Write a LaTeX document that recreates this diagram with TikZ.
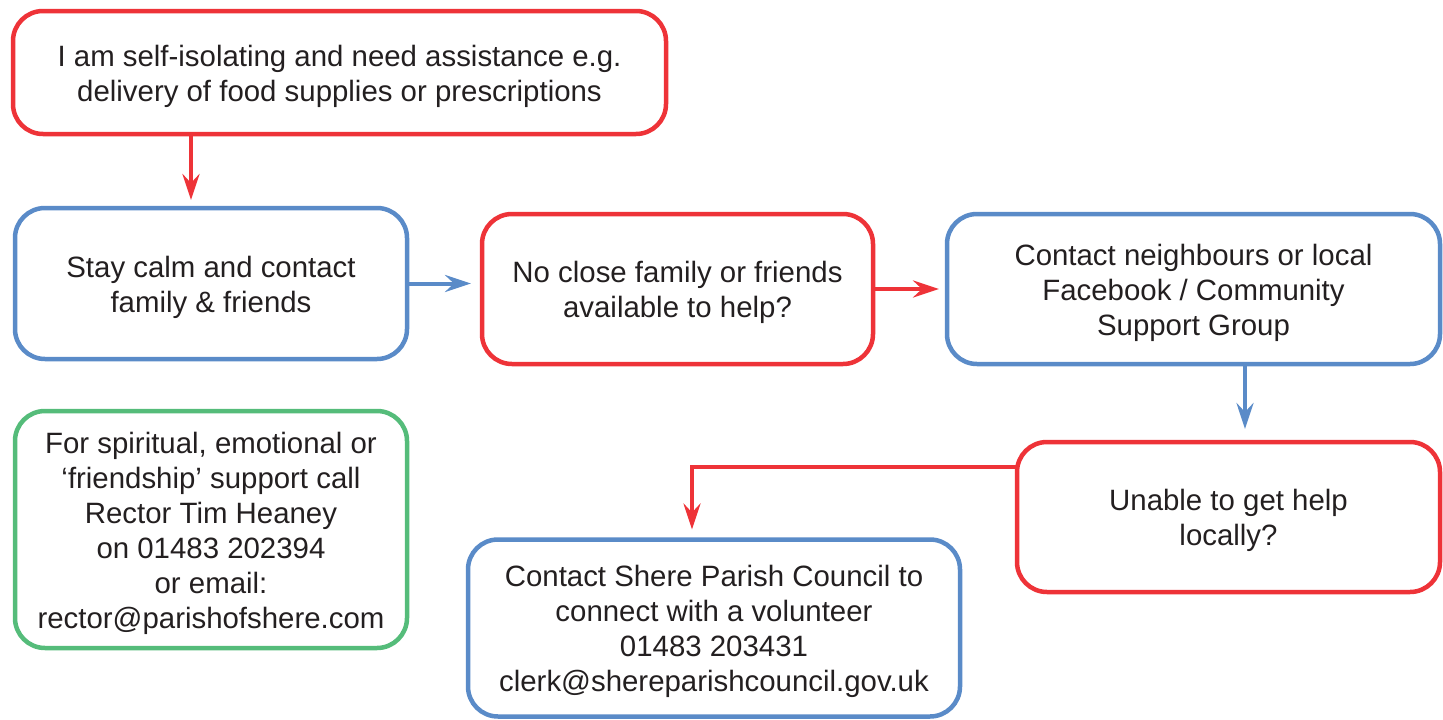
\documentclass[tikz,border=0pt]{standalone}
\usepackage{fontspec}
\setmainfont{Liberation Sans}
\usetikzlibrary{arrows.meta}
\definecolor{fred}{HTML}{EE3338}
\definecolor{fblue}{HTML}{5A8BC8}
\definecolor{fgreen}{HTML}{55BC7A}
\definecolor{ftext}{HTML}{231F20}
\newcommand\boxtxt[1]{\raisebox{-4pt}[\height][\depth]{\begin{tabular}{@{}c@{}}#1\end{tabular}}}
\tikzset{
  box/.style={draw, line width=4.5pt, rounded corners=30pt,
    inner sep=0pt, outer sep=0pt, text=ftext,
    font=\fontsize{29.4pt}{35pt}\selectfont},
  redbox/.style={box, draw=fred},
  bluebox/.style={box, draw=fblue},
  greenbox/.style={box, draw=fgreen},
  conn/.style={line width=4pt, -{Stealth[length=26pt,width=17pt,inset=9pt]}},
  redconn/.style={conn, draw=fred},
  blueconn/.style={conn, draw=fblue}
}
\begin{document}
\begin{tikzpicture}[x=1pt,y=-1pt]
\useasboundingbox (0,0) rectangle (1443,720);
\node[redbox, minimum width=653pt, minimum height=123pt] (top) at (339.5,72.5)
  {\boxtxt{I am self-isolating and need assistance e.g.\\delivery of food supplies or prescriptions}};
\node[bluebox, minimum width=392pt, minimum height=151pt] (stay) at (211,283.5)
  {\boxtxt{Stay calm and contact\\family \& friends}};
\node[redbox, minimum width=391pt, minimum height=150pt] (nofam) at (677.5,289)
  {\boxtxt{No close family or friends\\available to help?}};
\node[bluebox, minimum width=493pt, minimum height=150pt] (contact) at (1193.5,289)
  {\boxtxt{Contact neighbours or local\\Facebook / Community\\Support Group}};
\node[redbox, minimum width=423pt, minimum height=150pt] (unable) at (1228.5,517)
  {\boxtxt{Unable to get help\\locally?}};
\node[greenbox, minimum width=392pt, minimum height=237pt] (green) at (211,529.5)
  {\boxtxt{For spiritual, emotional or\\‘friendship’ support call\\Rector Tim Heaney\\on 01483 202394\\or email:\\rector@parishofshere.com}};
\node[bluebox, minimum width=492pt, minimum height=177pt] (shere) at (714,628)
  {\boxtxt{Contact Shere Parish Council to\\connect with a volunteer\\01483 203431\\clerk@shereparishcouncil.gov.uk}};
\draw[redconn] ([xshift=-20pt]stay.north |- top.south) -- ([xshift=-20pt,yshift=8pt]stay.north);
\draw[blueconn] (stay.east) -- ([xshift=-11pt]nofam.west |- stay.east);
\draw[redconn] (nofam.east) -- ([xshift=-8pt]contact.west |- nofam.east);
\draw[blueconn] ([xshift=51.5pt]contact.south) -- ([xshift=16.5pt,yshift=13pt]unable.north);
\draw[redconn] ([yshift=50pt]unable.west) -| ([xshift=-22pt,yshift=10pt]shere.north);
\end{tikzpicture}
\end{document}
